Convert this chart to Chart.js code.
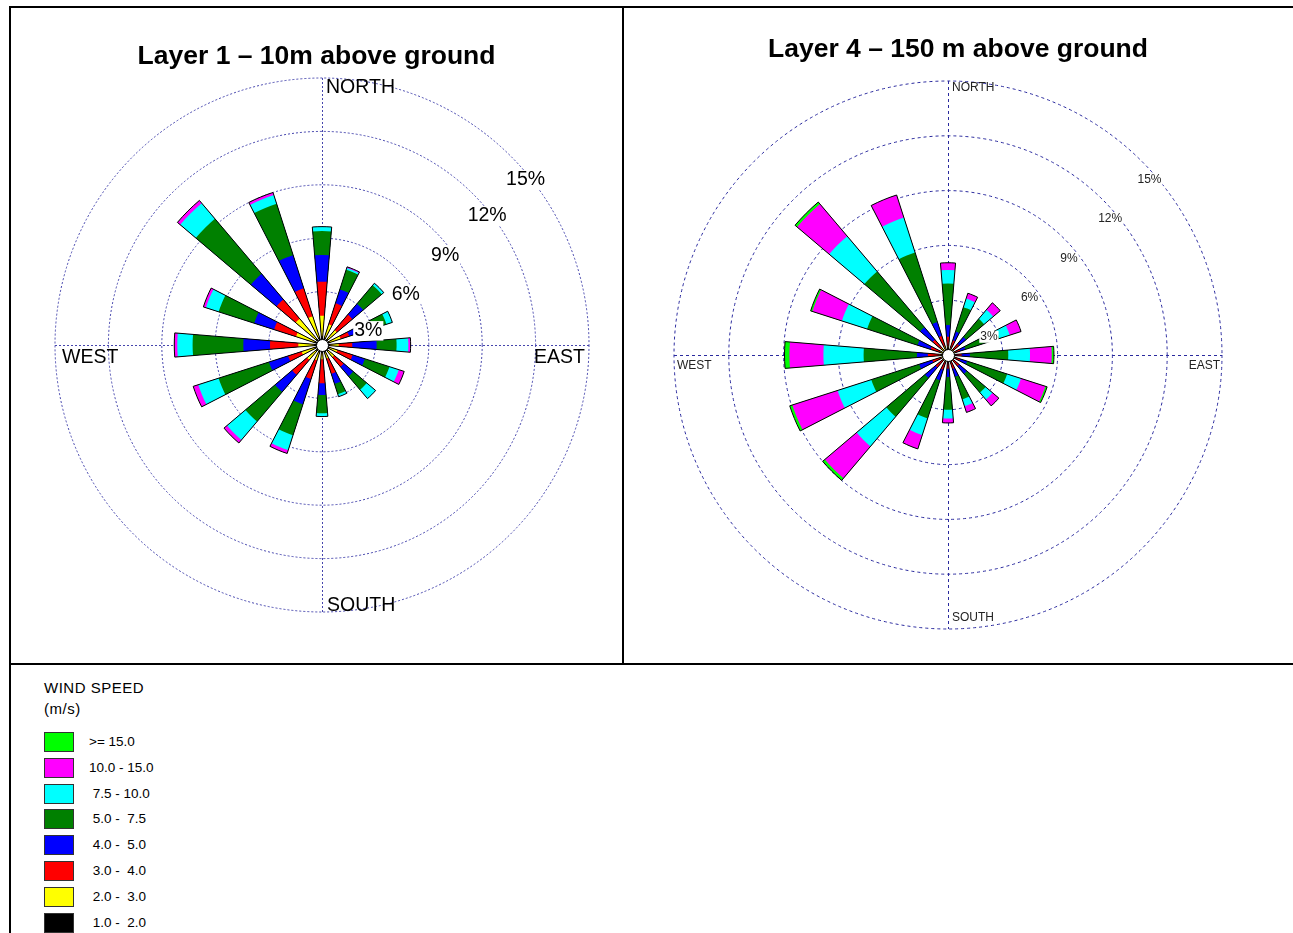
<!DOCTYPE html>
<html>
<head>
<meta charset="utf-8">
<script src="https://cdn.jsdelivr.net/npm/chart.js@4.4.1/dist/chart.umd.min.js"></script>
<style>
html,body{margin:0;padding:0;background:#fff;}
#page{position:relative;width:1293px;height:933px;overflow:hidden;background:#fff;font-family:"Liberation Sans",Arial,sans-serif;color:#000;}
canvas{position:absolute;}
.line{position:absolute;background:#000;}
.lgTitle{position:absolute;left:44px;font-size:15px;line-height:15px;letter-spacing:0.5px;white-space:pre;}
.lgBox{position:absolute;left:44px;width:28px;height:18px;border:1px solid #333;}
.lgText{position:absolute;left:89px;height:20px;line-height:20px;font-size:13.5px;white-space:pre;}
</style>
</head>
<body>
<div id="page">
  <canvas id="c1" width="623" height="664" style="left:0px;top:0px"></canvas>
  <canvas id="c2" width="670" height="664" style="left:623px;top:0px"></canvas>
  <div class="line" style="left:9px;top:6px;width:1284px;height:2px"></div>
  <div class="line" style="left:9px;top:6px;width:2px;height:927px"></div>
  <div class="line" style="left:622px;top:6px;width:2px;height:659px"></div>
  <div class="line" style="left:9px;top:663px;width:1284px;height:2px"></div>
  <div id="legend"></div>
</div>
<script>
// ---------- data ----------
const directions = ['N','NNE','NE','ENE','E','ESE','SE','SSE','S','SSW','SW','WSW','W','WNW','NW','NNW'];
const speedBins = [' 1.0 -  2.0',' 2.0 -  3.0',' 3.0 -  4.0',' 4.0 -  5.0',' 5.0 -  7.5',' 7.5 - 10.0','10.0 - 15.0','>= 15.0'];
const binColors = ['#000000','#ffff00','#ff0000','#0000ff','#008000','#00ffff','#ff00ff','#00ff00'];
const ringTicks = [3, 6, 9, 12, 15];
const compassLabels = ['NORTH', 'EAST', 'SOUTH', 'WEST'];
const titles = ['Layer 1 \u2013 10m above ground', 'Layer 4 \u2013 150 m above ground'];
const legendTitle = ['WIND SPEED', '(m/s)'];

// Layer 1 (10 m) – frequency (%) per speed bin, directions N..NNW
const l1_1to2   = [0.50,0.45,0.45,0.45,0.45,0.45,0.45,0.45,0.45,0.45,0.45,0.45,0.45,0.45,0.45,0.45];
const l1_2to3   = [1.15,0.77,0.65,0.65,0.49,0.45,0.45,0.35,0.35,0.45,0.65,0.75,0.88,1.08,1.49,1.25];
const l1_3to4   = [1.91,1.25,1.14,0.50,0.76,0.91,0.70,0.90,1.35,1.10,1.10,0.80,1.59,1.30,1.41,1.65];
const l1_4to5   = [1.50,0.81,0.79,0.40,1.37,0.72,0.70,0.60,0.66,1.50,1.26,1.13,1.50,1.17,1.89,1.95];
const l1_5to75  = [1.34,1.16,1.37,1.80,1.12,1.45,1.00,0.60,1.03,1.82,2.18,2.97,2.85,2.10,4.06,3.03];
const l1_75to10 = [0.25,0.10,0.15,0.35,0.66,0.55,0.65,0.15,0.18,0.88,1.36,1.20,0.86,0.75,1.15,0.52];
const l1_10to15 = [0.00,0.07,0.00,0.00,0.13,0.32,0.00,0.00,0.00,0.20,0.22,0.30,0.17,0.15,0.20,0.15];
const l1_ge15   = [0,0,0,0,0,0,0,0,0,0,0,0,0,0,0,0];

// Layer 4 (150 m) – frequency (%) per speed bin, directions N..NNW
const l4_1to2   = [0.20,0.20,0.20,0.20,0.20,0.20,0.20,0.20,0.20,0.20,0.20,0.20,0.20,0.20,0.20,0.20];
const l4_2to3   = [0.30,0.20,0.20,0.20,0.20,0.20,0.20,0.20,0.20,0.20,0.20,0.20,0.30,0.25,0.30,0.30];
const l4_3to4   = [0.50,0.45,0.40,0.30,0.35,0.30,0.40,0.40,0.35,0.45,0.50,0.50,0.60,0.55,0.60,0.60];
const l4_4to5   = [0.64,0.50,0.50,0.30,0.45,0.40,0.55,0.45,0.45,0.60,0.75,0.75,0.60,0.75,0.90,0.80];
const l4_5to75  = [2.28,1.40,1.30,1.95,2.10,2.30,1.35,1.30,1.80,2.20,2.78,2.76,2.92,2.90,4.00,4.00];
const l4_75to10 = [0.73,0.50,0.65,0.60,1.19,0.80,0.50,0.40,0.47,0.95,2.13,1.94,2.20,1.45,2.53,2.00];
const l4_10to15 = [0.40,0.30,0.50,0.65,1.19,1.40,0.45,0.35,0.25,0.80,2.28,2.60,1.86,1.70,2.30,1.30];
const l4_ge15   = [0.00,0.00,0.00,0.00,0.12,0.10,0.00,0.00,0.00,0.00,0.16,0.15,0.27,0.10,0.15,0.00];

const layer1 = [l1_1to2,l1_2to3,l1_3to4,l1_4to5,l1_5to75,l1_75to10,l1_10to15,l1_ge15];
const layer4 = [l4_1to2,l4_2to3,l4_3to4,l4_4to5,l4_5to75,l4_75to10,l4_10to15,l4_ge15];

// ---------- styling ----------
const FONT = '"Liberation Sans", Arial, sans-serif';
const WEDGE = 9.4;          // angular width of each direction wedge (deg)
const SECTOR = 360 / directions.length;

const decorStyles = {
  c1: { gridColor:'#4646ad', dash:[2,2], hole:6, tickSize:19.5, tickAng:[73,59,54,52,51], tickOff:[-5,-9,-8,-4,-5],
        labelSize:19.5, textColor:'#000', n:{dx:4,dy:0}, s:{dx:5,dy:-1}, w:{dx:7,dy:3}, e:{dx:-4,dy:3},
        titleX:316.5, titleY:64 },
  c2: { gridColor:'#2a2a9e', dash:[3,3], hole:6, tickSize:12, tickAng:[66,55,51.6,50,49], tickOff:[-10,-10,-10,-7.5,-7],
        labelSize:12, textColor:'#222', n:{dx:4,dy:1}, s:{dx:4,dy:-8}, w:{dx:3,dy:5}, e:{dx:-2,dy:5},
        titleX:335, titleY:57 }
};

const roseDecor = {
  id: 'roseDecor',
  beforeDatasetsDraw(chart) {
    const st = decorStyles[chart.canvas.id];
    const s = chart.scales.r, ctx = chart.ctx;
    const R = s.getDistanceFromCenterForValue(s.max), x = s.xCenter, y = s.yCenter;
    ctx.save();
    ctx.strokeStyle = st.gridColor; ctx.lineWidth = 1; ctx.setLineDash(st.dash);
    ctx.beginPath();
    ctx.moveTo(x + 0.5, y - R); ctx.lineTo(x + 0.5, y + R);
    ctx.moveTo(x - R, y + 0.5); ctx.lineTo(x + R, y + 0.5);
    ctx.stroke();
    ctx.restore();
  },
  afterDatasetsDraw(chart) {
    const st = decorStyles[chart.canvas.id];
    const s = chart.scales.r, ctx = chart.ctx;
    const R = s.getDistanceFromCenterForValue(s.max), x = s.xCenter, y = s.yCenter;
    ctx.save();
    // calm circle
    ctx.beginPath(); ctx.arc(x + 0.5, y + 0.5, st.hole, 0, Math.PI * 2);
    ctx.fillStyle = '#fff'; ctx.fill();
    ctx.lineWidth = 1; ctx.strokeStyle = '#000'; ctx.stroke();
    // ring labels
    ctx.font = st.tickSize + 'px ' + FONT;
    ctx.textAlign = 'center'; ctx.textBaseline = 'middle';
    ringTicks.forEach((v, i) => {
      const r = s.getDistanceFromCenterForValue(v) + st.tickOff[i];
      const a = st.tickAng[i] * Math.PI / 180;
      const tx = x + r * Math.sin(a), ty = y - r * Math.cos(a);
      const txt = v + '%';
      const w = ctx.measureText(txt).width;
      ctx.fillStyle = '#fff';
      ctx.fillRect(tx - w / 2 - 1, ty - st.tickSize * 0.5, w + 2, st.tickSize);
      ctx.fillStyle = st.textColor;
      ctx.fillText(txt, tx, ty);
    });
    // compass labels
    ctx.font = st.labelSize + 'px ' + FONT;
    ctx.fillStyle = st.textColor;
    ctx.textAlign = 'left'; ctx.textBaseline = 'top';
    ctx.fillText(compassLabels[0], x + st.n.dx, y - R + st.n.dy);
    ctx.fillText(compassLabels[3], x - R + st.w.dx, y + st.w.dy);
    ctx.textAlign = 'right';
    ctx.fillText(compassLabels[1], x + R + st.e.dx, y + st.e.dy);
    ctx.textAlign = 'left'; ctx.textBaseline = 'alphabetic';
    ctx.fillText(compassLabels[2], x + st.s.dx, y + R + st.s.dy);
    // panel title
    ctx.font = 'bold 26.5px ' + FONT;
    ctx.fillStyle = '#000';
    ctx.textAlign = 'center'; ctx.textBaseline = 'alphabetic';
    ctx.fillText(chart.options.plugins.roseTitle.text, st.titleX, st.titleY);
    ctx.restore();
  }
};

const angleFn = c => (c.dataIndex % 2 === 0 ? WEDGE : SECTOR - WEDGE);

function buildDatasets(bins) {
  const n = directions.length;
  const cum = bins.map(() => new Array(n).fill(0));
  for (let d = 0; d < n; d++) {
    let sum = 0;
    for (let b = 0; b < bins.length; b++) { sum += bins[b][d]; cum[b][d] = sum; }
  }
  const spread = arr => arr.flatMap(v => [v, 0]);
  const ds = [{
    label: 'total', data: spread(cum[bins.length - 1]),
    backgroundColor: 'rgba(0,0,0,0)', borderColor: '#000',
    borderWidth: c => (c.dataIndex % 2 ? 0 : 1), order: 0, angle: angleFn
  }];
  bins.forEach((b, i) => ds.push({
    label: speedBins[i].trim(), data: spread(cum[i]),
    backgroundColor: binColors[i], borderWidth: 0, order: i + 1, angle: angleFn
  }));
  return ds;
}

function makeChart(id, bins, title, pad) {
  const st = decorStyles[id];
  return new Chart(document.getElementById(id), {
    type: 'polarArea',
    data: { labels: directions.flatMap(d => [d, '']), datasets: buildDatasets(bins) },
    options: {
      responsive: false, animation: false, events: [],
      layout: { padding: pad },
      scales: {
        r: {
          min: 0, max: 15, startAngle: -WEDGE / 2,
          ticks: { display: false, stepSize: 3 },
          grid: { circular: true, color: st.gridColor, lineWidth: 1 },
          border: { dash: st.dash },
          angleLines: { display: false },
          pointLabels: { display: false }
        }
      },
      plugins: {
        legend: { display: false },
        tooltip: { enabled: false },
        title: { display: false },
        roseTitle: { text: title }
      }
    },
    plugins: [roseDecor]
  });
}

makeChart('c1', layer1, titles[0], { left: 55, right: 34, top: 78, bottom: 52 });
makeChart('c2', layer4, titles[1], { left: 51, right: 71, top: 81, bottom: 35 });

// ---------- legend ----------
const leg = document.getElementById('legend');
const t1 = document.createElement('div'); t1.className = 'lgTitle'; t1.style.top = '680px'; t1.textContent = legendTitle[0]; leg.appendChild(t1);
const t2 = document.createElement('div'); t2.className = 'lgTitle'; t2.style.top = '701px'; t2.textContent = legendTitle[1]; leg.appendChild(t2);
for (let i = speedBins.length - 1, row = 0; i >= 0; i--, row++) {
  const top = 732 + row * 25.8;
  const box = document.createElement('div'); box.className = 'lgBox';
  box.style.top = top + 'px'; box.style.background = binColors[i]; leg.appendChild(box);
  const tx = document.createElement('div'); tx.className = 'lgText';
  tx.style.top = top + 'px'; tx.textContent = speedBins[i]; leg.appendChild(tx);
}
</script>
</body>
</html>
